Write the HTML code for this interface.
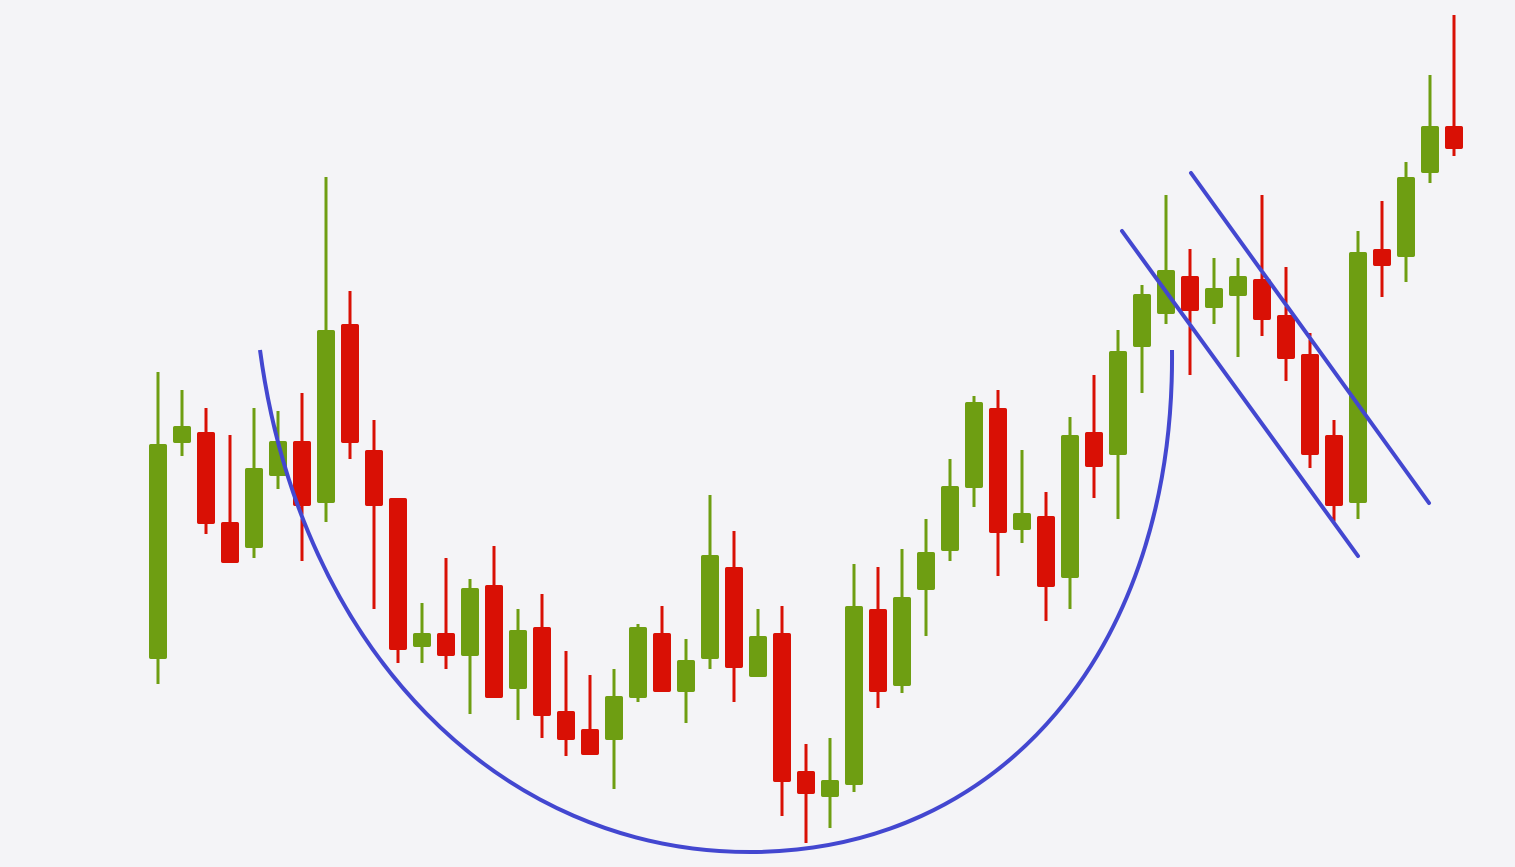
<!DOCTYPE html>
<html><head><meta charset="utf-8"><style>
html,body{margin:0;padding:0;background:#f4f4f7;}
svg{display:block;}
</style></head><body>
<svg id="chart" width="1515" height="867" viewBox="0 0 1515 867">
<rect x="0" y="0" width="1515" height="867" fill="#f4f4f7"/>
<g id="candles"></g>
<g id="overlay"></g>
</svg>
<script>
// price units (arbitrary): price = 900 - pixel-row of the reference
const highs  = [528,510,492,465,492,489,507,723,609,480,402,297,342,321,354,291,306,249,225,231,276,294,261,405,369,291,294,156,162,336,333,351,381,441,504,510,450,408,483,525,570,615,705,651,642,642,705,633,567,480,669,699,738,825,885];
const lows   = [216,444,366,337,342,411,339,378,441,291,237,237,231,186,202,180,162,144,145,111,198,208,177,231,198,223,84,57,72,108,192,207,264,339,393,324,357,279,291,402,381,507,576,525,576,543,564,519,432,378,381,603,618,717,744];
const opens  = [241,457,468,378,352,424,459,397,576,450,402,253,267,244,315,211,273,189,171,160,202,267,208,241,333,223,267,129,103,115,291,214,310,349,412,492,370,384,322,468,445,553,586,624,592,604,621,585,546,465,397,651,643,727,774];
const closes = [456,474,376,337,432,459,394,570,457,394,250,267,244,312,202,270,184,160,145,204,273,208,240,345,232,264,118,106,120,294,208,303,348,414,498,367,387,313,465,433,549,606,630,589,612,624,580,541,445,394,648,634,723,774,751];

const X0 = 158, STEP = 24, BODY = 18;
function xScale(i){ return X0 + i*STEP; }
function yScale(p){ return 900 - p; }

const NS = "http://www.w3.org/2000/svg";
const GREEN = "#6e9e12", RED = "#d91005";
const g = document.getElementById("candles");
for (let i = 0; i < opens.length; i++) {
  const up = closes[i] >= opens[i];
  const col = up ? GREEN : RED;
  const cx = xScale(i);
  const wick = document.createElementNS(NS, "line");
  
  
  wick.setAttribute("x1", cx); wick.setAttribute("x2", cx);
  wick.setAttribute("y1", yScale(highs[i])); wick.setAttribute("y2", yScale(lows[i]));
  wick.setAttribute("stroke", col); wick.setAttribute("stroke-width", 3);
  g.appendChild(wick);
  const top = yScale(Math.max(opens[i], closes[i]));
  const bot = yScale(Math.min(opens[i], closes[i]));
  const body = document.createElementNS(NS, "rect");
  
  
  body.setAttribute("x", cx - BODY/2); body.setAttribute("y", top);
  body.setAttribute("width", BODY); body.setAttribute("height", Math.max(bot - top, 3));
  body.setAttribute("rx", 2);
  body.setAttribute("fill", col);
  g.appendChild(body);
}

// pattern annotations (price units)
const cupStart = [260, 550], cupBottom = [750, 48], cupEnd = [1172, 550];
const handleLine1 = [[1122, 669], [1358, 344]];
const handleLine2 = [[1191, 727], [1429, 397]];
const ov = document.getElementById("overlay");
const BLUE = "#4347d0";
const cup = document.createElementNS(NS, "path");


const sy = yScale(cupStart[1]), by = yScale(cupBottom[1]), ey = yScale(cupEnd[1]);
cup.setAttribute("d",
  `M${cupStart[0]},${sy} C${cupStart[0]+40},${sy+300} ${cupBottom[0]-250},${by} ${cupBottom[0]},${by} ` +
  `C${cupBottom[0]+250},${by} ${cupEnd[0]+3},${ey+300} ${cupEnd[0]},${ey}`);
cup.setAttribute("fill", "none"); cup.setAttribute("stroke", BLUE); cup.setAttribute("stroke-width", 4);
ov.appendChild(cup);
[handleLine1, handleLine2].forEach(function(l){
  const ln = document.createElementNS(NS, "line");
  
  
  ln.setAttribute("x1", l[0][0]); ln.setAttribute("y1", yScale(l[0][1]));
  ln.setAttribute("x2", l[1][0]); ln.setAttribute("y2", yScale(l[1][1]));
  ln.setAttribute("stroke", BLUE); ln.setAttribute("stroke-width", 4); ln.setAttribute("stroke-linecap", "round");
  ov.appendChild(ln);
});
</script>
</body></html>
